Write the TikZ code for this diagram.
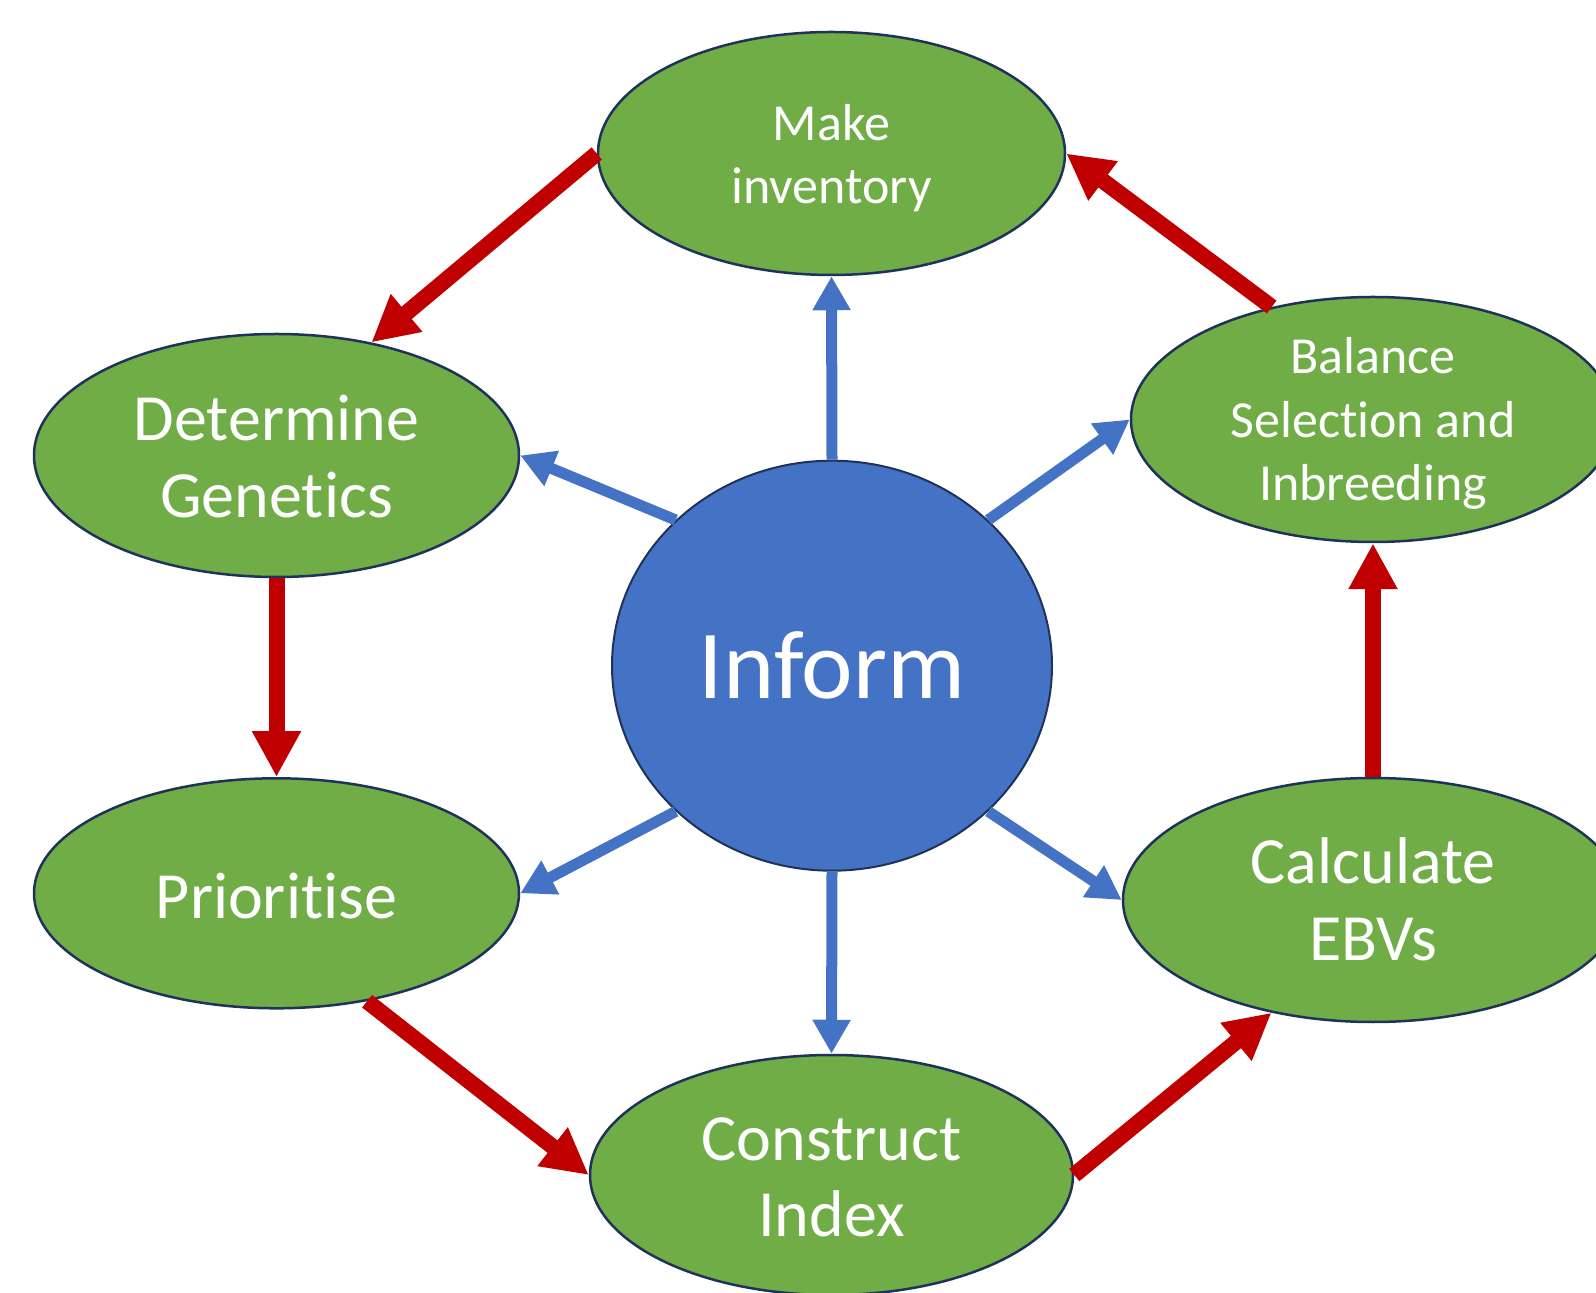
\documentclass[tikz,border=0pt]{standalone}
\usepackage{fontspec}
\setmainfont{Carlito}[Ligatures=NoCommon]
\usetikzlibrary{shapes.geometric,arrows.meta}

\definecolor{leaf}{HTML}{70AD47}
\definecolor{sky}{HTML}{4472C4}
\definecolor{crimson}{HTML}{C00000}
\definecolor{navy}{HTML}{1F3259}

\tikzset{
  stage/.style={ellipse, draw=navy, fill=leaf, line width=1.25pt, inner sep=0pt},
  hub/.style={ellipse, draw=navy, fill=sky, line width=1pt, inner sep=0pt},
  smalltxt/.style={text=white, align=center, inner sep=0pt, font=\fontsize{26}{31.75}\selectfont},
  bigtxt/.style={text=white, align=center, inner sep=0pt, font=\fontsize{33}{38.3}\selectfont},
  redarrow/.style={draw=crimson, line width=8pt, -{Triangle[width=23pt,length=23pt]}},
  bluearrow/.style={draw=sky, line width=5.5pt, -{Triangle[width=18pt,length=17pt]}},
}

\begin{document}
\begin{tikzpicture}[x=0.5pt, y=-0.5pt]
  \useasboundingbox (0,0) rectangle (1596,1293);

  % the six stages round the hub
  \node[stage, minimum width=233.5pt, minimum height=121.5pt] (make) at (831.5,153.5) {};
  \node[stage, minimum width=242pt, minimum height=122.5pt] (bal) at (1373,419.5) {};
  \node[stage, minimum width=250pt, minimum height=122pt] (calc) at (1373,900) {};
  \node[stage, minimum width=241.5pt, minimum height=120pt] (con) at (831.5,1175) {};
  \node[stage, minimum width=242.5pt, minimum height=121.5pt] (det) at (276.5,455.5) {};
  \node[stage, minimum width=242.5pt, minimum height=115pt] (pri) at (276.5,893.3) {};
  \node[hub, minimum width=220pt, minimum height=205pt] (inf) at (832,665.7) {};

  % labels
  \node[smalltxt] (make-t) at (831.5,158) {Make\\inventory};
  \node[smalltxt] (bal-t) at (1373,423.5) {Balance\\Selection and\\Inbreeding};
  \node[bigtxt] (calc-t) at (1373,899.5) {Calculate\\EBVs};
  \node[bigtxt] (con-t) at (831.5,1177.5) {Construct\\Index};
  \node[bigtxt] (det-t) at (276.5,456.5) {Determine\\Genetics};
  \node[bigtxt] (pri-t) at (276.5,896) {Prioritise};
  \node[text=white, inner sep=0pt, font=\fontsize{48.8}{58}\selectfont] (inf-t) at (832,665.5) {Inform};

  % the cycle
  \draw[redarrow] (make.west) -- (det.50);
  \draw[redarrow] (det.south) -- (pri.north);
  \draw[redarrow] (pri.-50) -- (con.west);
  \draw[redarrow] (con.east) -- (calc.228);
  \draw[redarrow] (calc.north) -- (bal.south);
  \draw[redarrow] (bal.132) -- (make.east);

  % spokes from the hub
  \draw[bluearrow] (inf.north) -- (make.south);
  \draw[bluearrow] (inf.137) -- (det.east);
  \draw[bluearrow] (inf.43) -- (bal.west);
  \draw[bluearrow] (inf.223) -- (pri.east);
  \draw[bluearrow] (inf.-43) -- (calc.west);
  \draw[bluearrow] (inf.south) -- (con.north);
\end{tikzpicture}
\end{document}
